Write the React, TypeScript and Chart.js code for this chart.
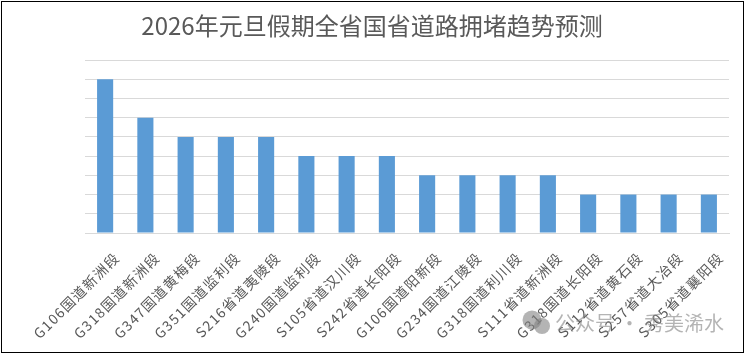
import { useEffect, useRef } from "react";
import { Chart, registerables } from "chart.js";

Chart.register(...registerables);

const titleText = "2026年元旦假期全省国省道路拥堵趋势预测";
const categories = [
  "G106国道新洲段", "G318国道新洲段", "G347国道黄梅段", "G351国道监利段",
  "S216省道夷陵段", "G240国道监利段", "S105省道汉川段", "S242省道长阳段",
  "G106国道阳新段", "G234国道江陵段", "G318国道利川段", "S111省道新洲段",
  "G318国道长阳段", "S112省道黄石段", "S257省道大冶段", "S305省道襄阳段",
];
const congestion = [8, 6, 5, 5, 5, 4, 4, 4, 3, 3, 3, 3, 2, 2, 2, 2];
const watermarkText = "公众号 · 秀美浠水";
const FONT = '"Noto Sans CJK SC", "Noto Sans", sans-serif';

export default function App() {
  const ref = useRef<HTMLCanvasElement>(null);
  useEffect(() => {
    const labelSpacing = {
      id: "labelSpacing",
      afterDatasetsDraw(c: Chart) {
        (c.ctx as any).letterSpacing = "1.3px";
      },
    };
    const watermark = {
      id: "watermark",
      afterDraw(c: Chart) {
        const ctx = c.ctx;
        (ctx as any).letterSpacing = "0px";
        ctx.save();
        ctx.fillStyle = "rgba(130,130,130,0.6)";
        ctx.beginPath();
        ctx.arc(532, 320, 9.5, 0, Math.PI * 2);
        ctx.fill();
        ctx.beginPath();
        ctx.arc(542, 326, 8, 0, Math.PI * 2);
        ctx.fill();
        ctx.font = `20px ${FONT}`;
        ctx.textAlign = "left";
        ctx.textBaseline = "middle";
        ctx.fillText(watermarkText, 555, 323);
        ctx.restore();
      },
    };
    const chart = new Chart(ref.current!, {
      type: "bar",
      data: {
        labels: categories,
        datasets: [{
          data: congestion,
          backgroundColor: "#5B9BD5",
          barPercentage: 0.4,
          categoryPercentage: 1,
        }],
      },
      options: {
        animation: false,
        responsive: false,
        layout: { padding: { left: 15, right: 15, top: 0, bottom: 0 } },
        plugins: {
          legend: { display: false },
          tooltip: { enabled: false },
          title: {
            display: true,
            text: titleText,
            color: "#595959",
            font: { family: FONT, size: 24, weight: "normal" },
            padding: { top: 11, bottom: 20.2 },
          },
        },
        scales: {
          x: {
            afterFit(s: any) { s.height = 120; },
            grid: { display: false },
            border: { color: "#D9D9D9" },
            ticks: {
              color: "#595959",
              font: { family: FONT, size: 14 },
              maxRotation: 45,
              minRotation: 45,
              autoSkip: false,
              padding: 8,
              labelOffset: 12,
              z: 1,
            },
          },
          y: {
            min: 0,
            max: 9,
            afterFit(s: any) { s.width = 70; },
            grid: { color: "#D9D9D9", drawTicks: false },
            border: { display: false },
            ticks: { display: false, stepSize: 1 },
          },
        },
      },
      plugins: [labelSpacing, watermark],
    });
    return () => chart.destroy();
  }, []);
  return (
    <div style={{ position: "fixed", left: 0, top: 0, width: 744, height: 353, background: "#fff" }}>
      <canvas ref={ref} width={744} height={353} style={{ display: "block" }} />
      <div style={{ position: "absolute", left: 1, top: 1, width: 743, height: 352, boxSizing: "border-box", border: "1px solid #000" }} />
    </div>
  );
}
